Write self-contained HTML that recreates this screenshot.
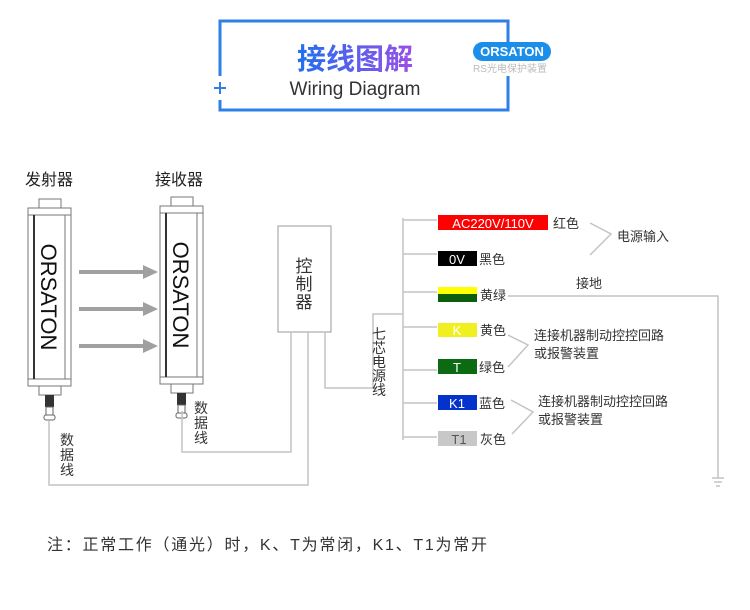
<!DOCTYPE html>
<html><head><meta charset="utf-8"><style>
body{margin:0;background:#fff;}
svg text{font-family:"Liberation Sans","Noto Sans CJK SC",sans-serif;}
</style></head><body>
<svg width="750" height="605" viewBox="0 0 750 605" xmlns="http://www.w3.org/2000/svg">
<defs>
<linearGradient id="tg" x1="0" x2="1"><stop offset="0" stop-color="#1f6ff0"/><stop offset="1" stop-color="#9a4fe8"/></linearGradient>
<g id="dev">
<rect x="11" y="0" width="22" height="9" fill="#fff" stroke="#777"/>
<rect x="0" y="9" width="43" height="178" fill="#fff" stroke="#777"/>
<line x1="0" y1="16" x2="43" y2="16" stroke="#777"/>
<line x1="0" y1="180" x2="43" y2="180" stroke="#777"/>
<line x1="6" y1="16" x2="6" y2="180" stroke="#333" stroke-width="2"/>
<line x1="37" y1="16" x2="37" y2="180" stroke="#777"/>
<rect x="11" y="187" width="22" height="9" fill="#fff" stroke="#777"/>
<rect x="17" y="196" width="9" height="12" fill="#333"/>
<rect x="18" y="208" width="7" height="8" fill="#fff" stroke="#666"/>
<rect x="16" y="216" width="11" height="5" rx="2" fill="#fff" stroke="#666"/>
<text transform="translate(13,98) rotate(90)" text-anchor="middle" font-size="22" fill="#111">ORSATON</text>
</g>
</defs>
<g stroke="#2f80e6" stroke-width="3" fill="none">
<path d="M220,76 V21 H508 V44"/>
<path d="M508,76 V110 H220 V100"/>
<path d="M214,88 H226 M220,82 V94" stroke-width="2"/>
</g>
<text x="355" y="69" text-anchor="middle" font-size="29" font-weight="bold" fill="url(#tg)">接线图解</text>
<text x="355" y="95" text-anchor="middle" font-size="19" fill="#333">Wiring Diagram</text>
<rect x="473" y="42" width="78" height="19" rx="9.5" fill="#1a8ee8"/>
<text x="512" y="56" text-anchor="middle" font-size="13" font-weight="bold" fill="#fff">ORSATON</text>
<text x="510" y="72" text-anchor="middle" font-size="10" fill="#bbb">RS光电保护装置</text>
<text x="25" y="185" font-size="16" fill="#222">发射器</text>
<text x="155" y="185" font-size="16" fill="#222">接收器</text>
<use href="#dev" x="28" y="199"/>
<use href="#dev" x="160" y="197"/>
<g stroke="#a0a0a0" stroke-width="4" fill="#a0a0a0">
<line x1="79" y1="272" x2="145" y2="272"/><polygon points="143,265 158,272 143,279" stroke="none"/>
<line x1="79" y1="309" x2="145" y2="309"/><polygon points="143,302 158,309 143,316" stroke="none"/>
<line x1="79" y1="346" x2="145" y2="346"/><polygon points="143,339 158,346 143,353" stroke="none"/>
</g>
<rect x="278" y="226" width="53" height="106" fill="#fff" stroke="#999"/>
<text x="304" y="272" text-anchor="middle" font-size="17" fill="#333">控</text>
<text x="304" y="290" text-anchor="middle" font-size="17" fill="#333">制</text>
<text x="304" y="308" text-anchor="middle" font-size="17" fill="#333">器</text>
<g stroke="#c4c4c4" stroke-width="1.5" fill="none">
<path d="M291,332 V452 H182 V411"/>
<path d="M308,332 V485 H49 V421"/>
<path d="M325,332 V388 H373 V314 H403"/>
<path d="M403,218 V440"/>
<path d="M403,220 H437 M403,254 H437 M403,292 H437 M403,327 H437 M403,370 H437 M403,403 H437 M403,437 H437"/>
<path d="M508,296 H718 V478"/>
<path d="M712,478 H724 M714,482 H722 M716,486 H720"/>
<path d="M590,223 L611,234 L590,255"/>
<path d="M508,335 L528,345 L508,367"/>
<path d="M511,400 L533,412 L512,434"/>
</g>
<g font-size="14" fill="#333" text-anchor="middle">
<text x="379" y="339">七</text><text x="379" y="353">芯</text><text x="379" y="367">电</text><text x="379" y="381">源</text><text x="379" y="395">线</text>
<text x="201" y="413">数</text><text x="201" y="428">据</text><text x="201" y="443">线</text>
<text x="67" y="445">数</text><text x="67" y="460">据</text><text x="67" y="475">线</text>
</g>
<rect x="438" y="215" width="110" height="15" fill="#ff0000"/>
<text x="493" y="228" text-anchor="middle" font-size="13" fill="#fff">AC220V/110V</text>
<rect x="438" y="251" width="39" height="15" fill="#000"/>
<text x="457" y="264" text-anchor="middle" font-size="13" fill="#fff">0V</text>
<rect x="438" y="287" width="39" height="7" fill="#ffff00"/>
<rect x="438" y="294" width="39" height="8" fill="#0b5e0b"/>
<rect x="438" y="323" width="39" height="14" fill="#f0f020"/>
<text x="457" y="335" text-anchor="middle" font-size="13" fill="#fff">K</text>
<rect x="438" y="359" width="39" height="15" fill="#0c6b12"/>
<text x="457" y="372" text-anchor="middle" font-size="13" fill="#fff">T</text>
<rect x="438" y="395" width="39" height="15" fill="#0433cc"/>
<text x="457" y="408" text-anchor="middle" font-size="13" fill="#fff">K1</text>
<rect x="438" y="431" width="39" height="15" fill="#c8c8c8"/>
<text x="459" y="444" text-anchor="middle" font-size="13" fill="#555">T1</text>
<g font-size="13" fill="#333">
<text x="553" y="228">红色</text>
<text x="479" y="264">黑色</text>
<text x="480" y="300">黄绿</text>
<text x="480" y="335">黄色</text>
<text x="479" y="372">绿色</text>
<text x="479" y="408">蓝色</text>
<text x="480" y="444">灰色</text>
<text x="617" y="241">电源输入</text>
<text x="576" y="288">接地</text>
<text x="534" y="340">连接机器制动控控回路</text>
<text x="534" y="358">或报警装置</text>
<text x="538" y="406">连接机器制动控控回路</text>
<text x="538" y="424">或报警装置</text>
</g>
<text x="47" y="550" font-size="16" fill="#333" textLength="440" lengthAdjust="spacing">注：正常工作（通光）时，K、T为常闭，K1、T1为常开</text>
</svg>
</body></html>
